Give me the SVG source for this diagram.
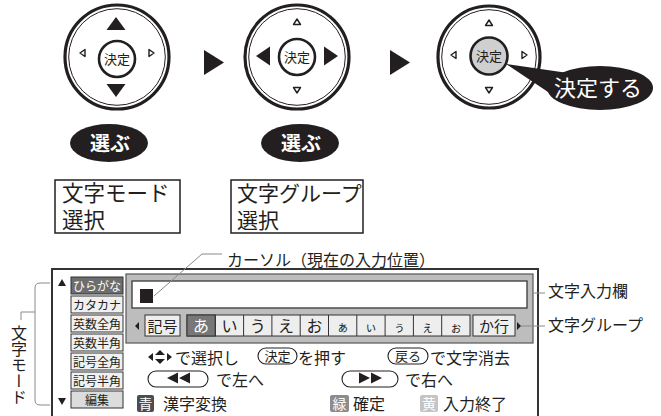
<svg xmlns="http://www.w3.org/2000/svg" width="661" height="416" viewBox="0 0 661 416">
<style>
text{font-family:"Noto Sans CJK JP","Noto Sans",sans-serif;fill:#231f20}
.ring{fill:#fff;stroke:#231f20;stroke-width:3.2}
.ring2{fill:none;stroke:#231f20;stroke-width:1}
.btn{fill:#fff;stroke:#231f20;stroke-width:2.6}
.blk{fill:#231f20}
.open{fill:#fff;stroke:#231f20;stroke-width:1.4;stroke-linejoin:round}
.lead{fill:none;stroke:#8a8a8a;stroke-width:1}
.mode{fill:#f0f0f0;stroke:#333;stroke-width:1}
.cell{fill:#eee;stroke:#333;stroke-width:1}
.pill{fill:#fff;stroke:#231f20;stroke-width:1.1}
.t15{font-size:16px}
.t12{font-size:12px}
</style>

<g id="remote1">
<circle class="ring" cx="117" cy="57" r="52"/>
<circle class="ring2" cx="117" cy="57" r="48.3"/>
<circle class="btn" cx="117" cy="59" r="18"/>
<text x="117" y="64" font-size="13" text-anchor="middle">決定</text>
<polygon class="blk" points="116,17 106.5,30 125.5,30"/>
<polygon class="blk" points="106.5,84 125.5,84 116,97"/>
<polygon class="open" points="80,53 85,49.5 85,56.5"/>
<polygon class="open" points="154,53 149,49.5 149,56.5"/>
</g>

<g id="remote2">
<circle class="ring" cx="297" cy="57" r="52"/>
<circle class="ring2" cx="297" cy="57" r="48.3"/>
<circle class="btn" cx="297" cy="57" r="18"/>
<text x="297" y="62" font-size="13" text-anchor="middle">決定</text>
<polygon class="blk" points="256,56 270,46.5 270,65.5"/>
<polygon class="blk" points="338,56 324,46.5 324,65.5"/>
<polygon class="open" points="297,19 293.5,24.5 300.5,24.5"/>
<polygon class="open" points="297,93 293.5,87.5 300.5,87.5"/>
</g>

<g id="remote3">
<circle class="ring" cx="489" cy="57" r="51"/>
<circle class="ring2" cx="489" cy="57" r="47.3"/>
<circle class="btn" cx="489" cy="56" r="18.5" style="fill:#cfcfcf"/>
<text x="489" y="61" font-size="13" text-anchor="middle">決定</text>
<polygon class="open" points="489,20 485.5,25.5 492.5,25.5"/>
<polygon class="open" points="489,93 485.5,87.5 492.5,87.5"/>
<polygon class="open" points="451,55 456,51.5 456,58.5"/>
<polygon class="open" points="527,55 522,51.5 522,58.5"/>
</g>

<g id="callout">
<polygon class="blk" points="506,64 568,73 560,100"/>
<ellipse class="blk" cx="600" cy="88" rx="53" ry="22"/>
<text x="598" y="96" font-size="22" text-anchor="middle" style="fill:#fff">決定する</text>
</g>

<g id="select1">
<ellipse class="blk" cx="109" cy="143" rx="39" ry="19"/>
<text x="110" y="151" font-size="20" font-weight="bold" text-anchor="middle" style="fill:#fff">選ぶ</text>
</g>
<g id="select2">
<ellipse class="blk" cx="300" cy="143" rx="39" ry="19"/>
<text x="301" y="151" font-size="20" font-weight="bold" text-anchor="middle" style="fill:#fff">選ぶ</text>
</g>

<g id="box-mode">
<rect x="55" y="180" width="125" height="53" fill="#fff" stroke="#231f20" stroke-width="1.5"/>
<text x="62" y="201" font-size="21.5">文字モード</text>
<text x="62" y="228" font-size="21.5">選択</text>
</g>
<g id="box-group">
<rect x="231" y="180" width="132" height="53" fill="#fff" stroke="#231f20" stroke-width="1.5"/>
<text x="237" y="201" font-size="21">文字グループ</text>
<text x="237" y="228" font-size="21">選択</text>
</g>

<g id="panel">
<rect x="52" y="269" width="486" height="160" fill="#fff" stroke="#333" stroke-width="2"/>
<polygon class="blk" points="58,286 62,279 66,286"/>
<polygon class="blk" points="58,398 66,398 62,405"/>
</g>

<g id="mode-list">
<rect x="71" y="277" width="52" height="17" fill="#6d6d6d" stroke="#333" stroke-width="1"/>
<text x="97" y="290.5" class="t12" text-anchor="middle" style="fill:#fff">ひらがな</text>
<rect class="mode" x="71" y="296" width="52" height="17"/>
<text x="97" y="309.5" class="t12" text-anchor="middle">カタカナ</text>
<rect class="mode" x="71" y="315" width="52" height="17"/>
<text x="97" y="328.5" class="t12" text-anchor="middle">英数全角</text>
<rect class="mode" x="71" y="334" width="52" height="17"/>
<text x="97" y="347.5" class="t12" text-anchor="middle">英数半角</text>
<rect class="mode" x="71" y="353" width="52" height="17"/>
<text x="97" y="366.5" class="t12" text-anchor="middle">記号全角</text>
<rect class="mode" x="71" y="372" width="52" height="17"/>
<text x="97" y="385.5" class="t12" text-anchor="middle">記号半角</text>
<rect x="71" y="391" width="52" height="17" fill="#dcdcdc" stroke="#333" stroke-width="1"/>
<text x="97" y="404.5" class="t12" text-anchor="middle">編集</text>
</g>

<g id="input-area">
<rect x="126" y="274" width="407" height="69" fill="#bdbdbd" stroke="#555" stroke-width="1.2"/>
<rect x="132" y="281" width="395" height="27" fill="#fff" stroke="#444" stroke-width="1.4"/>
<rect x="140" y="289" width="13" height="14" fill="#231f20"/>
</g>

<g id="char-group">
<polygon class="blk" points="135,326 139,322 139,330"/>
<rect class="cell" x="145" y="315" width="35" height="21"/>
<text x="162.5" y="331.5" font-size="15" text-anchor="middle">記号</text>
<rect class="cell" x="187" y="315" width="283" height="21"/>
<rect x="187" y="315" width="28.3" height="21" fill="#777" stroke="#333" stroke-width="1"/>
<path d="M215.3 315V336M243.6 315V336M271.9 315V336M300.2 315V336M328.5 315V336M356.8 315V336M385.1 315V336M413.4 315V336M441.7 315V336" stroke="#333" stroke-width="1"/>
<text x="201" y="332" font-size="16" text-anchor="middle" style="fill:#fff">あ</text>
<text x="229.5" y="332" font-size="16" text-anchor="middle">い</text>
<text x="257.8" y="332" font-size="16" text-anchor="middle">う</text>
<text x="286" y="332" font-size="16" text-anchor="middle">え</text>
<text x="314.4" y="332" font-size="16" text-anchor="middle">お</text>
<text x="342.7" y="332" font-size="12" text-anchor="middle">ぁ</text>
<text x="371" y="332" font-size="12" text-anchor="middle">ぃ</text>
<text x="399.3" y="332" font-size="12" text-anchor="middle">ぅ</text>
<text x="427.6" y="332" font-size="12" text-anchor="middle">ぇ</text>
<text x="455.9" y="332" font-size="12" text-anchor="middle">ぉ</text>
<rect class="cell" x="473" y="315" width="42" height="21"/>
<text x="494" y="331.5" font-size="15" text-anchor="middle">か行</text>
<polygon class="blk" points="521,326 517,322 517,330"/>
</g>

<g id="label-cursor"><text x="227" y="266" class="t15">カーソル（現在の入力位置）</text></g>
<g id="label-input"><text x="548" y="297" class="t15">文字入力欄</text></g>
<g id="label-group"><text x="548" y="331" class="t15">文字グループ</text></g>
<g id="label-mode"><text x="19" y="325" font-size="16" style="writing-mode:vertical-rl">文字モード</text></g>

<g id="instructions">
<polygon class="blk" points="148,357 153,353 153,361"/>
<polygon class="blk" points="155,355 160,350 165,355"/>
<polygon class="blk" points="155,359 165,359 160,364"/>
<polygon class="blk" points="172,357 167,353 167,361"/>
<text x="175" y="364" class="t15">で選択し</text>
<rect class="pill" x="258" y="348" width="39" height="16" rx="8"/>
<text x="277.5" y="361" font-size="13" text-anchor="middle">決定</text>
<text x="298" y="364" class="t15">を押す</text>
<rect class="pill" x="388" y="348" width="40" height="16" rx="8"/>
<text x="408" y="361" font-size="13" text-anchor="middle">戻る</text>
<text x="430" y="364" class="t15">で文字消去</text>

<rect class="pill" x="148" y="371" width="60" height="16" rx="8"/>
<polygon class="blk" points="167,378 178,372.5 178,383.5"/>
<polygon class="blk" points="179,378 190,372.5 190,383.5"/>
<text x="216" y="386" class="t15">で左へ</text>
<rect class="pill" x="342" y="371" width="56" height="16" rx="8"/>
<polygon class="blk" points="370,378 359,372.5 359,383.5"/>
<polygon class="blk" points="382,378 371,372.5 371,383.5"/>
<text x="405" y="386" class="t15">で右へ</text>

<rect x="137" y="395" width="17" height="17" rx="2" fill="#4d4d4d"/>
<text x="145.5" y="409" font-size="14" text-anchor="middle" style="fill:#fff">青</text>
<text x="163" y="410" class="t15">漢字変換</text>
<rect x="330" y="395" width="19" height="17" rx="2" fill="#8c8c8c"/>
<text x="339.5" y="409" font-size="14" text-anchor="middle" style="fill:#fff">緑</text>
<text x="353" y="410" class="t15">確定</text>
<rect x="420" y="395" width="18" height="17" rx="2" fill="#c4c4c4"/>
<text x="429" y="409" font-size="14" text-anchor="middle" style="fill:#fff">黄</text>
<text x="443" y="410" class="t15">入力終了</text>
</g>

<g id="connectors">
<polygon class="blk" points="204,50 224,62.5 204,75"/>
<polygon class="blk" points="390,50 410,62.5 390,75"/>
<path class="lead" d="M222 254H202L154 296"/>
<path class="lead" d="M534 293H545"/>
<path class="lead" d="M521 326H545"/>
<path class="lead" d="M50 283H40Q35 283 35 288V400Q35 405 40 405H50"/>
<path class="lead" d="M35 312H21V320"/>
</g>
</svg>
